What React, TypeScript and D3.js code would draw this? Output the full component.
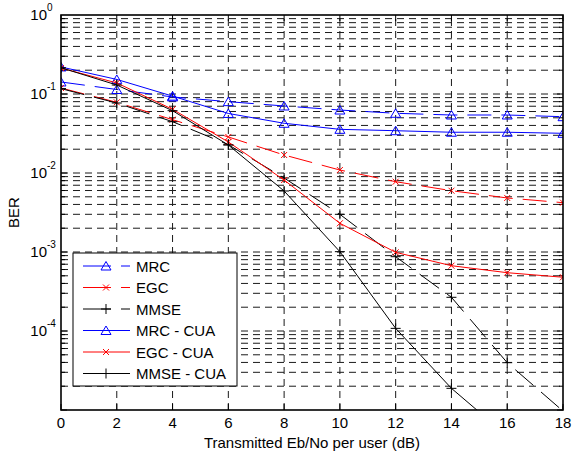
import React from 'react'
import * as d3 from 'd3'

// Eb/No points (dB)
const ebno = [0, 2, 4, 6, 8, 10, 12, 14, 16, 18]
const xTicks = [0, 2, 4, 6, 8, 10, 12, 14, 16, 18]
const yLabelExps = [0, -1, -2, -3, -4]

// BER
const mrc = [0.142, 0.114, 0.0917, 0.080, 0.0705, 0.0627, 0.057, 0.0542, 0.0542, 0.0516]
const egc = [0.119, 0.0785, 0.0473, 0.0286, 0.0169, 0.0109, 0.00776, 0.00597, 0.00483, 0.00421]
const mmse = [0.117, 0.0769, 0.0446, 0.0228, 0.00865, 0.0030, 0.000872, 0.000267, 0.0000397, 0.0000097]
const mrcCua = [0.220, 0.153, 0.094, 0.0567, 0.0426, 0.0357, 0.0343, 0.0328, 0.0328, 0.0318]
const egcCua = [0.213, 0.138, 0.064, 0.0247, 0.00815, 0.00231, 0.00099, 0.000671, 0.000547, 0.000479]
const mmseCua = [0.215, 0.130, 0.0615, 0.0226, 0.00592, 0.00101, 0.000108, 0.0000188, 0.0000047, 0.000001]

const series = [
  {name: 'MRC', values: mrc, color: '#0000ff', marker: 'tri', dashed: true},
  {name: 'EGC', values: egc, color: '#ff0000', marker: 'x', dashed: true},
  {name: 'MMSE', values: mmse, color: '#000000', marker: '+', dashed: true},
  {name: 'MRC - CUA', values: mrcCua, color: '#0000ff', marker: 'tri', dashed: false},
  {name: 'EGC - CUA', values: egcCua, color: '#ff0000', marker: 'x', dashed: false},
  {name: 'MMSE - CUA', values: mmseCua, color: '#000000', marker: '+', dashed: false}
]

const W = 572
const H = 457
const left = 61
const right = 563
const top = 15
const bottom = 410
const font = 'Liberation Sans, Arial, Helvetica, sans-serif'
const lineDash = '24,10'
const gridDash = '7,5'

const Marker = ({type, x, y, color}: {type: string, x: number, y: number, color: string}) => {
  if (type === 'tri') {
    return <path d={`M${x},${y - 4.5}L${x + 5},${y + 4}L${x - 5},${y + 4}Z`} fill="none" stroke={color} strokeWidth={1}/>
  }
  if (type === 'x') {
    var s = 3
    return <path d={`M${x - s},${y - s}L${x + s},${y + s}M${x - s},${y + s}L${x + s},${y - s}`} stroke={color} strokeWidth={1}/>
  }
  var p = 5
  return <path d={`M${x - p},${y}L${x + p},${y}M${x},${y - p}L${x},${y + p}`} stroke={color} strokeWidth={1}/>
}

const App = () => {
  const x = d3.scaleLinear().domain([0, 18]).range([left, right])
  const y = d3.scaleLog().domain([1e-5, 1]).range([bottom, top])

  const line = d3.line<number>()
    .x((d, i) => x(ebno[i]))
    .y(d => y(d))

  // minor + major horizontal grid values
  var hGrid: number[] = []
  for (var e = -5; e < 0; e++) {
    for (var k = 1; k <= 9; k++) {
      var v = k * Math.pow(10, e)
      if (v > 1e-5 && v < 1) hGrid.push(v)
    }
  }
  var yTickVals: number[] = []
  for (var e2 = -5; e2 < 0; e2++) {
    for (var k2 = 1; k2 <= 9; k2++) yTickVals.push(k2 * Math.pow(10, e2))
  }

  const legendX = 73
  const legendY = 253
  const legendW = 164
  const legendH = 133
  const rowH = 21.5

  return (
    <div style={{position: 'absolute', left: 0, top: 0}}>
      <svg width={W} height={H} style={{display: 'block', background: 'white'}}>
        <defs>
          <clipPath id="plot">
            <rect x={left} y={top} width={right - left} height={bottom - top}/>
          </clipPath>
        </defs>
        <rect x={left} y={top} width={right - left} height={bottom - top} fill="white"/>

        <g stroke="#1a1a1a" strokeWidth={1} strokeDasharray={gridDash}>
          {hGrid.map((v, i) => <line key={'h' + i} x1={left} x2={right} y1={y(v)} y2={y(v)}/>)}
          {xTicks.slice(1, -1).map(t => <line key={'v' + t} x1={x(t)} x2={x(t)} y1={bottom} y2={top}/>)}
        </g>

        <g stroke="#000" strokeWidth={1}>
          {yTickVals.map((v, i) => {
            var len = Math.abs(Math.log10(v) - Math.round(Math.log10(v))) < 1e-9 ? 6 : 4
            return (
              <g key={'yt' + i}>
                <line x1={left} x2={left + len} y1={y(v)} y2={y(v)}/>
                <line x1={right} x2={right - len} y1={y(v)} y2={y(v)}/>
              </g>
            )
          })}
          {xTicks.map(t => (
            <g key={'xt' + t}>
              <line x1={x(t)} x2={x(t)} y1={bottom} y2={bottom - 6}/>
              <line x1={x(t)} x2={x(t)} y1={top} y2={top + 6}/>
            </g>
          ))}
        </g>

        <g clipPath="url(#plot)">
          {series.map(s => (
            <g key={s.name}>
              <path d={line(s.values) || ''} fill="none" stroke={s.color} strokeWidth={1}
                strokeDasharray={s.dashed ? lineDash : undefined}/>
              {s.values.map((v, i) => <Marker key={i} type={s.marker} x={x(ebno[i])} y={y(v)} color={s.color}/>)}
            </g>
          ))}
        </g>

        <rect x={left} y={top} width={right - left} height={bottom - top} fill="none" stroke="#000" strokeWidth={1.6}/>

        <g fontFamily={font} fontSize={15} fill="#000">
          {xTicks.map(t => (
            <text key={'xl' + t} x={x(t)} y={428} textAnchor="middle">{t}</text>
          ))}
          {yLabelExps.map(ex => (
            <g key={'yl' + ex}>
              <text x={47} y={y(Math.pow(10, ex)) + 5} textAnchor="end">10</text>
              <text x={47} y={y(Math.pow(10, ex)) - 4} fontSize={10}>{ex}</text>
            </g>
          ))}
          <text x={(left + right) / 2} y={448} textAnchor="middle">Transmitted Eb/No per user (dB)</text>
          <text transform={`translate(19,${(top + bottom) / 2}) rotate(-90)`} textAnchor="middle">BER</text>
        </g>

        <g>
          <rect x={legendX} y={legendY} width={legendW} height={legendH} fill="white" stroke="#000" strokeWidth={1}/>
          {series.map((s, i) => {
            var ly = legendY + 13 + i * rowH
            return (
              <g key={'lg' + s.name}>
                <line x1={83} x2={130} y1={ly} y2={ly} stroke={s.color} strokeWidth={1}
                  strokeDasharray={s.dashed ? '28,10' : undefined}/>
                <Marker type={s.marker} x={106} y={ly} color={s.color}/>
                <text x={136} y={ly + 5.5} fontFamily={font} fontSize={15}>{s.name}</text>
              </g>
            )
          })}
        </g>
      </svg>
    </div>
  )
}

export default App
